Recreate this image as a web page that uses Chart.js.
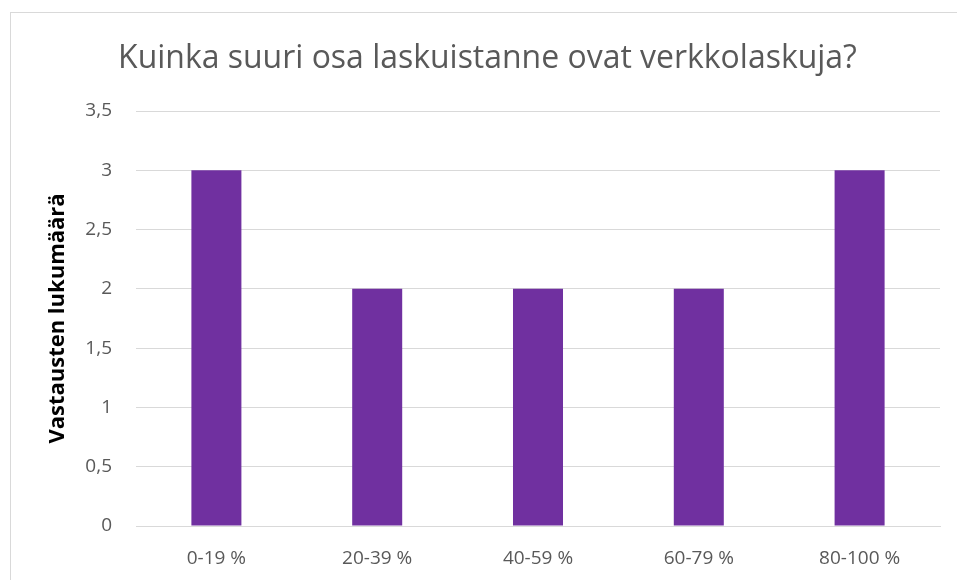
<!DOCTYPE html>
<html>
<head>
<meta charset="utf-8">
<script src="https://cdn.jsdelivr.net/npm/chart.js@4/dist/chart.umd.min.js"></script>
<style>
  html, body { margin: 0; padding: 0; background: #fff; overflow: hidden; }
  #wrap { position: relative; width: 957px; height: 580px; }
  #frame { position: absolute; left: 10px; top: 12px; width: 1000px; height: 600px;
           border: 1px solid #d9d9d9; box-sizing: border-box; }
  #chart { position: absolute; left: 0; top: 0; }
</style>
</head>
<body>
<div id="wrap">
  <div id="frame"></div>
  <canvas id="chart" width="957" height="580"></canvas>
</div>
<script>
// --- data ---
const titleText = 'Kuinka suuri osa laskuistanne ovat verkkolaskuja?';
const yTitle = 'Vastausten lukumäärä';
const categories = ['0-19 %', '20-39 %', '40-59 %', '60-79 %', '80-100 %'];
const answers = [3, 2, 2, 2, 3];
const yMin = 0, yMax = 3.5, yStep = 0.5;

const FONT = "'Open Sans', 'Liberation Sans', sans-serif";
const GREY = '#595959';

// fit a font size so the text gets the width it has in the original
function fitSize(text, target, weight) {
    const c = document.createElement('canvas').getContext('2d');
    c.font = `${weight || 'normal'} 100px ${FONT}`;
    return 100 * target / c.measureText(text).width;
}
const titleSize = fitSize(titleText, 739);
const yTitleSize = Math.min(22, fitSize(yTitle, 252, 'bold'));

const ctx = document.getElementById('chart');
new Chart(ctx, {
    type: 'bar',
    data: {
        labels: categories,
        datasets: [{
            data: answers,
            backgroundColor: '#7030A0',
            borderWidth: 0,
            categoryPercentage: 0.311,
            barPercentage: 1
        }]
    },
    options: {
        responsive: false,
        animation: false,
        layout: { padding: { left: 35, right: 17, top: 22, bottom: 0 } },
        plugins: {
            legend: { display: false },
            tooltip: { enabled: false },
            title: {
                display: true,
                text: titleText,
                color: GREY,
                font: { family: FONT, size: titleSize, weight: 'normal', lineHeight: 1.2 },
                padding: { top: 18, bottom: 111 - 22 - 18 - titleSize * 1.2 }
            }
        },
        scales: {
            x: {
                grid: { display: false, drawTicks: false },
                border: { display: true, color: '#d9d9d9', width: 1 },
                ticks: { color: GREY, font: { family: FONT, size: 19 }, padding: 21 },
                afterFit: s => { s.height = 54; }
            },
            y: {
                min: yMin,
                max: yMax,
                ticks: {
                    stepSize: yStep,
                    color: GREY,
                    font: { family: FONT, size: 19 },
                    padding: 24,
                    callback: v => String(v).replace('.', ',')
                },
                grid: { color: '#d9d9d9', drawTicks: false },
                border: { display: false },
                title: {
                    display: true,
                    text: yTitle,
                    color: '#000',
                    font: { family: FONT, size: yTitleSize, weight: 'bold', lineHeight: 1.2 },
                    padding: { top: 10, bottom: 0 }
                },
                afterFit: s => { s.width = 101; }
            }
        }
    }
});
</script>
</body>
</html>
